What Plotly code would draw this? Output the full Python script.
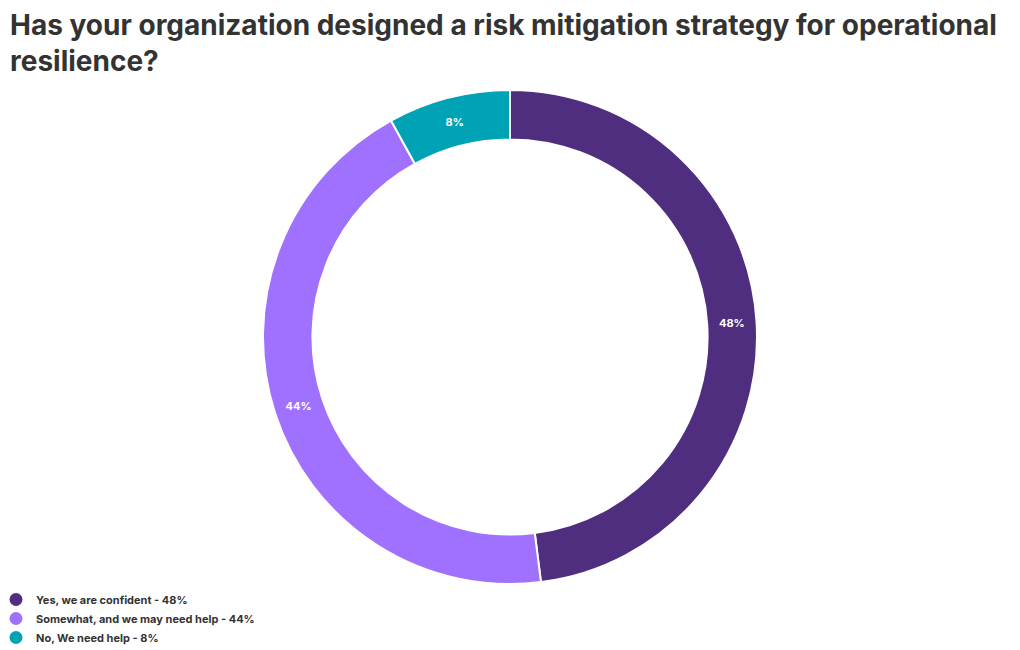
import plotly.graph_objects as go

labels = ["Yes, we are confident - 48%", "Somewhat, and we may need help - 44%", "No, We need help - 8%"]
values = [48, 44, 8]
texts = ["48%", "44%", "8%"]
colors = ["#4F2D7F", "#A070FF", "#00A3B5"]

# page body has an 8px margin; figure fills the rest of the 1020x650 window
W, H = 1012, 642
fig = go.Figure()
fig.add_trace(go.Pie(
    labels=labels, values=values, text=texts, textinfo="text",
    hole=0.8, sort=False, direction="clockwise", rotation=0,
    marker=dict(colors=colors, line=dict(color="white", width=2)),
    textposition="inside", insidetextorientation="horizontal",
    textfont=dict(color="white", size=11, family="Inter", weight=700),
    hoverinfo="label+percent", showlegend=False,
    domain=dict(x=[0, 1004 / W], y=[1 - 576 / H, 1 - 82 / H]),
))
# legend entries with round bullets
for lab, col in zip(labels, colors):
    fig.add_trace(go.Scatter(
        x=[None], y=[None], mode="markers", name=lab,
        marker=dict(color=col, size=13, symbol="circle"),
        hoverinfo="skip",
    ))

fig.update_layout(
    width=W, height=H,
    paper_bgcolor="white", plot_bgcolor="white",
    margin=dict(l=0, r=0, t=0, b=0, autoexpand=False),
    xaxis=dict(visible=False), yaxis=dict(visible=False),
    annotations=[dict(
        text="Has your organization designed a risk mitigation strategy for operational<br>resilience?",
        x=0, xanchor="left", y=1 + 2 / H, yanchor="top", xref="paper", yref="paper",
        showarrow=False, align="left",
        font=dict(family="Inter", size=28, color="#333333", weight=700),
    )],
    legend=dict(
        x=-12 / W, xanchor="left", y=1 - 577 / H, yanchor="top",
        font=dict(family="Inter", size=11, color="#333333", weight=700),
        tracegroupgap=0, itemwidth=30, bgcolor="rgba(0,0,0,0)",
    ),
    showlegend=True,
)

fig.write_html("out.html")
